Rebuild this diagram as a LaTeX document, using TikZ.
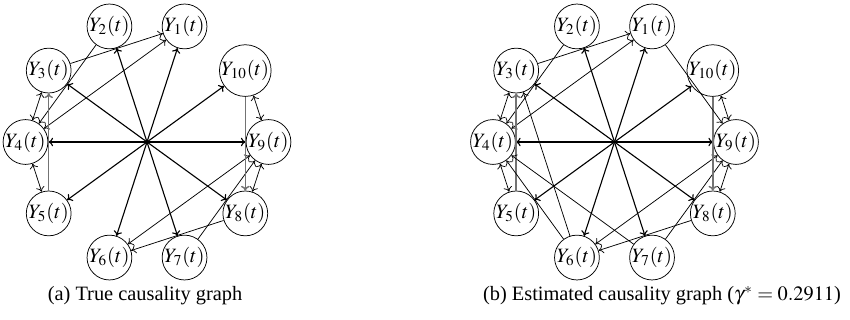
\documentclass[tikz,border=0pt]{standalone}
\usepackage{mathptmx}
\usepackage[no-math]{fontspec}
\setmainfont{Liberation Serif}
\usetikzlibrary{calc,arrows.meta}

\tikzset{
  >={To[length=2.6pt,width=4.6pt]},
  var/.style={draw,circle,minimum size=18.9pt,inner sep=0pt,fill=white,font=\fontsize{11}{13}\selectfont},
  diam/.style={<->,line width=0.6pt},
  edge/.style={->,line width=0.4pt},
  both/.style={<->,line width=0.4pt},
  vert/.style={->,line width=0.8pt,black!55},
  caption/.style={font=\fontsize{11}{13}\selectfont}
}

\begin{document}
\begin{tikzpicture}[x=0.54pt,y=0.54pt]
\useasboundingbox (0,0) rectangle (850,320);
\coordinate (ca) at (147,178);
\coordinate (cb) at (614.5,178);
% (a) true graph
\node[var] (a1) at ($(ca)+(72:121.5)$) {$Y_1(t)$};
\node[var] (a2) at ($(ca)+(108:121.5)$) {$Y_2(t)$};
\node[var] (a3) at ($(ca)+(144:121.5)$) {$Y_3(t)$};
\node[var] (a4) at ($(ca)+(180:121.5)$) {$Y_4(t)$};
\node[var] (a5) at ($(ca)+(216:121.5)$) {$Y_5(t)$};
\node[var] (a6) at ($(ca)+(252:121.5)$) {$Y_6(t)$};
\node[var] (a7) at ($(ca)+(288:121.5)$) {$Y_7(t)$};
\node[var] (a8) at ($(ca)+(324:121.5)$) {$Y_8(t)$};
\node[var] (a9) at ($(ca)+(0:121.5)$) {$Y_9(t)$};
\node[var] (a10) at ($(ca)+(36:121.5)$) {$Y_{10}(t)$};
\draw[diam] (a1) -- (a6);
\draw[diam] (a2) -- (a7);
\draw[diam] (a3) -- (a8);
\draw[diam] (a4) -- (a9);
\draw[diam] (a5) -- (a10);
\draw[edge] (a3) -- (a1);
\draw[edge] (a2) -- (a4);
\draw[both] (a4) -- (a1);
\draw[both] (a3) -- (a4);
\draw[both] (a4) -- (a5);
\draw[vert] (a5) -- (a3);
\draw[edge] (a8) -- (a6);
\draw[edge] (a7) -- (a9);
\draw[both] (a9) -- (a6);
\draw[both] (a8) -- (a9);
\draw[both] (a9) -- (a10);
\draw[vert] (a10) -- (a8);
\node[caption] (capa) at (145,24) {(a) True causality graph};
% (b) estimated graph
\node[var] (b1) at ($(cb)+(72:121.5)$) {$Y_1(t)$};
\node[var] (b2) at ($(cb)+(108:121.5)$) {$Y_2(t)$};
\node[var] (b3) at ($(cb)+(144:121.5)$) {$Y_3(t)$};
\node[var] (b4) at ($(cb)+(180:121.5)$) {$Y_4(t)$};
\node[var] (b5) at ($(cb)+(216:121.5)$) {$Y_5(t)$};
\node[var] (b6) at ($(cb)+(252:121.5)$) {$Y_6(t)$};
\node[var] (b7) at ($(cb)+(288:121.5)$) {$Y_7(t)$};
\node[var] (b8) at ($(cb)+(324:121.5)$) {$Y_8(t)$};
\node[var] (b9) at ($(cb)+(0:121.5)$) {$Y_9(t)$};
\node[var] (b10) at ($(cb)+(36:121.5)$) {$Y_{10}(t)$};
\draw[diam] (b1) -- (b6);
\draw[diam] (b2) -- (b7);
\draw[diam] (b3) -- (b8);
\draw[diam] (b4) -- (b9);
\draw[diam] (b5) -- (b10);
\draw[edge] (b3) -- (b1);
\draw[edge] (b2) -- (b4);
\draw[both] (b4) -- (b1);
\draw[both] (b3) -- (b4);
\draw[both] (b4) -- (b5);
\draw[vert] (b5) -- (b3);
\draw[edge] (b8) -- (b6);
\draw[edge] (b7) -- (b9);
\draw[both] (b9) -- (b6);
\draw[both] (b8) -- (b9);
\draw[both] (b9) -- (b10);
\draw[vert] (b10) -- (b8);
\draw[edge] (b1) -- (b9);
\draw[edge] (b6) -- (b3);
\draw[edge] (b7) -- (b4);
\draw[edge] (b6) -- (b4);
\node[caption] (capb) at (662,24) {(b) Estimated causality graph ($\gamma^* = 0.2911$)};
\end{tikzpicture}
\end{document}
